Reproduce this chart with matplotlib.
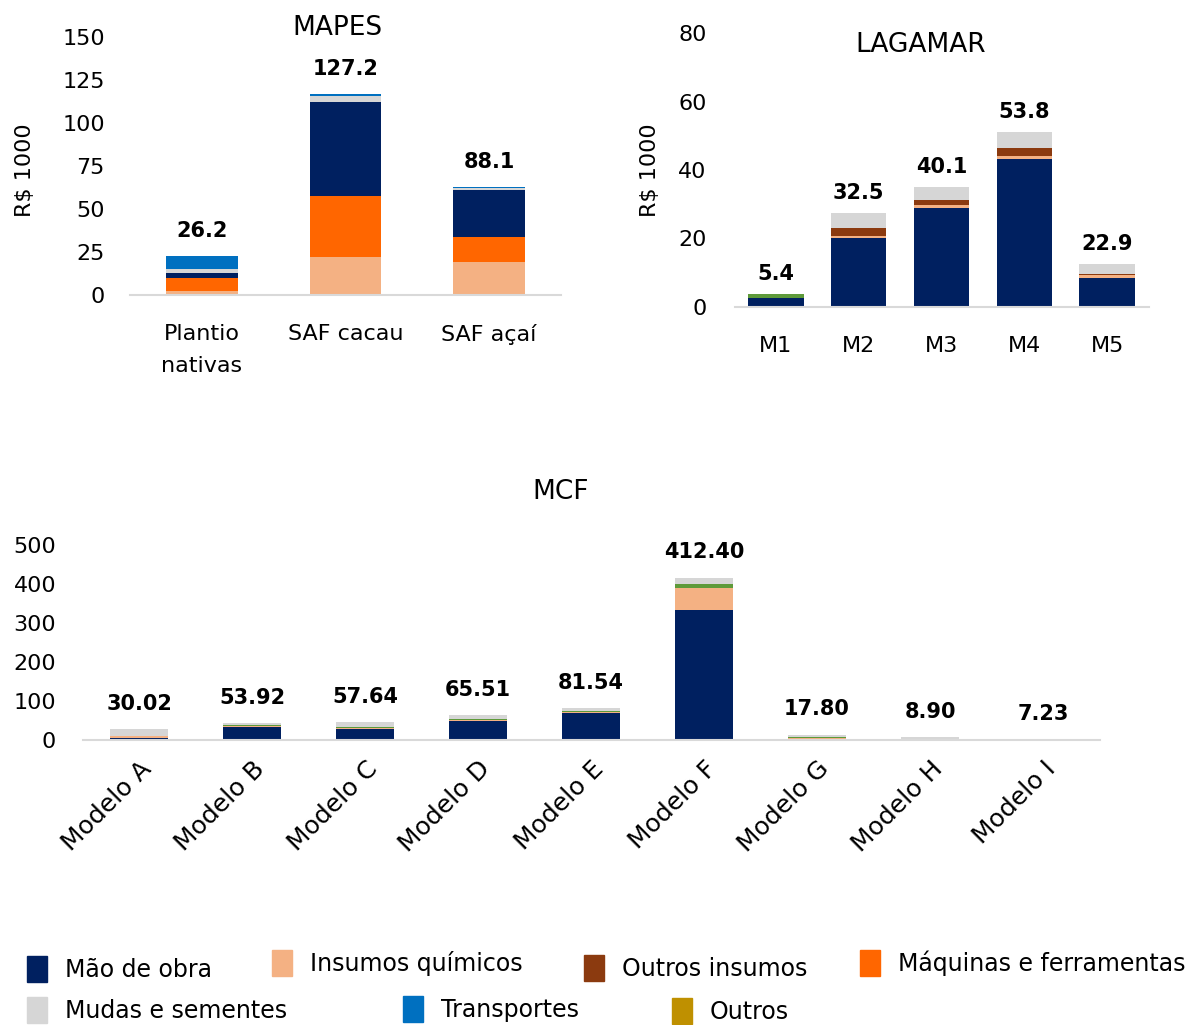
import matplotlib.pyplot as plt
import numpy as np
from matplotlib.patches import Patch

plt.rcParams['font.family'] = ['DejaVu Sans']

# cores das categorias de custo
c_mao = '#002060'
c_quim = '#F4B183'
c_outins = '#8B3A0F'
c_maq = '#FF6600'
c_mudas = '#D6D6D6'
c_transp = '#0070C0'
c_outros = '#BF9000'
c_verde = '#5E9A3A'

# MAPES
mapes_cat = ['Plantio\nnativas', 'SAF cacau', 'SAF açaí']
mapes_quim = [2.3, 22.3, 19.0]
mapes_maq = [7.8, 35.3, 14.9]
mapes_mao = [2.5, 54.8, 27.1]
mapes_mudas = [2.5, 3.3, 1.0]
mapes_transp = [7.5, 1.2, 0.7]
mapes_lbl = ['26.2', '127.2', '88.1']

# LAGAMAR
lag_cat = ['M1', 'M2', 'M3', 'M4', 'M5']
lag_mao = [2.7, 20.1, 29.0, 43.2, 8.6]
lag_quim = [0, 0.7, 0.8, 0.9, 0.6]
lag_outins = [0, 2.4, 1.5, 2.3, 0.5]
lag_mudas = [0, 4.2, 3.8, 4.8, 3.0]
lag_verde = [1.2, 0, 0, 0, 0]
lag_lbl = ['5.4', '32.5', '40.1', '53.8', '22.9']

# MCF
mcf_cat = ['Modelo A', 'Modelo B', 'Modelo C', 'Modelo D', 'Modelo E',
           'Modelo F', 'Modelo G', 'Modelo H', 'Modelo I']
mcf_mao = [6, 32.5, 28, 48, 68.4, 333, 2, 0, 0]
mcf_quim = [3, 2.5, 3, 4.3, 2.5, 56.4, 3, 0, 1]
mcf_verde = [2, 2.5, 2.5, 2.5, 2.5, 10, 2, 0, 0]
mcf_mudas = [16, 6, 12, 9, 8.5, 17, 6.5, 7, 1]
mcf_transp = [1.5, 0, 0, 0, 0, 0, 0, 0, 0]
mcf_lbl = ['30.02', '53.92', '57.64', '65.51', '81.54', '412.40', '17.80', '8.90', '7.23']


def empilhar(ax, cats, series, width):
    x = np.arange(len(cats))
    base = np.zeros(len(cats))
    for vals, cor in series:
        vals = np.array(vals, dtype=float)
        ax.bar(x, vals, width, bottom=base, color=cor, edgecolor='none')
        base += vals
    return x, base


def estilo(ax):
    for s in ['top', 'right', 'left']:
        ax.spines[s].set_visible(False)
    ax.spines['bottom'].set_color('#D9D9D9')
    ax.spines['bottom'].set_linewidth(1.5)
    ax.tick_params(length=0, labelsize=16)


W, H = 1195, 1025
fig = plt.figure(figsize=(W / 100, H / 100), dpi=100)

# --- MAPES
ax1 = fig.add_axes([130 / W, 1 - 295 / H, 431 / W, 258 / H])
x, tops = empilhar(ax1, mapes_cat, [(mapes_quim, c_quim), (mapes_maq, c_maq), (mapes_mao, c_mao),
                                    (mapes_mudas, c_mudas), (mapes_transp, c_transp)], 0.5)
for xi, t, l in zip(x, tops, mapes_lbl):
    ax1.annotate(l, (xi, t), xytext=(0, 11), textcoords='offset points',
                 ha='center', va='bottom', fontsize=15, fontweight='bold')
ax1.set_xticks(x, mapes_cat, linespacing=1.75)
ax1.set_xlim(-0.5, 2.5)
ax1.set_ylim(0, 150)
ax1.set_yticks([0, 25, 50, 75, 100, 125, 150])
estilo(ax1)
ax1.tick_params(axis='y', pad=18)
ax1.tick_params(axis='x', pad=21)
fig.text(337 / W, 1 - 28 / H, 'MAPES', ha='center', va='center', fontsize=19)
fig.text(25 / W, 1 - 170 / H, 'R$ 1000', ha='center', va='center', rotation=90, fontsize=16)

# --- LAGAMAR
ax2 = fig.add_axes([734.5 / W, 1 - 307 / H, 414 / W, 274 / H])
x, tops = empilhar(ax2, lag_cat, [(lag_mao, c_mao), (lag_quim, c_quim), (lag_outins, c_outins),
                                  (lag_mudas, c_mudas), (lag_verde, c_verde)], 0.67)
for xi, t, l in zip(x, tops, lag_lbl):
    ax2.annotate(l, (xi, t), xytext=(0, 7), textcoords='offset points',
                 ha='center', va='bottom', fontsize=15, fontweight='bold')
ax2.set_xticks(x, lag_cat)
ax2.set_xlim(-0.5, 4.5)
ax2.set_ylim(0, 80)
ax2.set_yticks([0, 20, 40, 60, 80])
estilo(ax2)
ax2.tick_params(axis='y', pad=20)
ax2.tick_params(axis='x', pad=21)
fig.text(921 / W, 1 - 45 / H, 'LAGAMAR', ha='center', va='center', fontsize=19)
fig.text(650 / W, 1 - 170 / H, 'R$ 1000', ha='center', va='center', rotation=90, fontsize=16)

# --- MCF
ax3 = fig.add_axes([82.5 / W, 1 - 740 / H, 1017 / W, 195 / H])
x, tops = empilhar(ax3, mcf_cat, [(mcf_mao, c_mao), (mcf_quim, c_quim), (mcf_verde, c_verde),
                                  (mcf_mudas, c_mudas), (mcf_transp, c_transp)], 0.52)
for xi, t, l in zip(x, tops, mcf_lbl):
    ax3.annotate(l, (xi, t), xytext=(0, 11), textcoords='offset points',
                 ha='center', va='bottom', fontsize=15, fontweight='bold')
ax3.set_xticks(x)
ax3.set_xticklabels(mcf_cat, rotation=45, ha='right', rotation_mode='anchor')
ax3.set_xlim(-0.5, 8.5)
ax3.set_ylim(0, 500)
ax3.set_yticks([0, 100, 200, 300, 400, 500])
estilo(ax3)
ax3.tick_params(axis='x', labelsize=18, pad=12)
ax3.tick_params(axis='y', pad=19)
fig.text(561 / W, 1 - 492 / H, 'MCF', ha='center', va='center', fontsize=19)

# --- legenda (itens posicionados um a um)
itens = [('Mão de obra', c_mao, 27, 969), ('Insumos químicos', c_quim, 272, 963),
         ('Outros insumos', c_outins, 584, 968), ('Máquinas e ferramentas', c_maq, 860, 963),
         ('Mudas e sementes', c_mudas, 27, 1010), ('Transportes', c_transp, 403, 1009),
         ('Outros', c_outros, 672, 1011)]
for nome, cor, px, py in itens:
    fig.legend(handles=[Patch(color=cor, label=nome)], loc='center left',
               bbox_to_anchor=(px / W, 1 - py / H), frameon=False, fontsize=17,
               borderpad=0, borderaxespad=0, handlelength=0.85, handleheight=1.35,
               handletextpad=0.75)

fig.savefig('out.png', dpi=100)
